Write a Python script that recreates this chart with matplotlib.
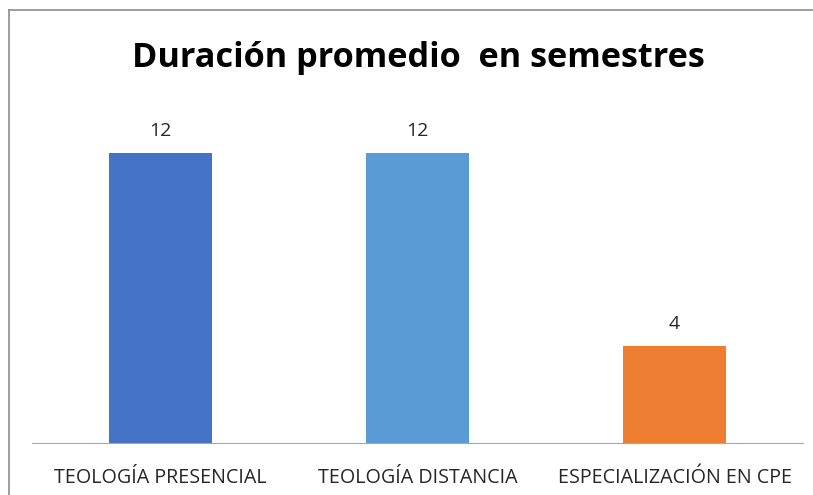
import matplotlib
matplotlib.use('Agg')
import matplotlib.pyplot as plt
from matplotlib.lines import Line2D

plt.rcParams['font.family'] = ['Open Sans', 'DejaVu Sans']

categorias = ['TEOLOGÍA PRESENCIAL', 'TEOLOGÍA DISTANCIA', 'ESPECIALIZACIÓN EN CPE']
semestres = [12, 12, 4]
colores = ['#4472C4', '#5B9BD5', '#ED7D31']
titulo = 'Duración promedio  en semestres'

fig = plt.figure(figsize=(8.13, 4.95), dpi=100)
ax = fig.add_axes([0.0394, 0.105, 0.9483, 0.683])

x = range(len(categorias))
bars = ax.bar(x, semestres, width=0.4, color=colores)
for b, v in zip(bars, semestres):
    ax.text(b.get_x() + b.get_width() / 2, v + 0.55, str(v),
            ha='center', va='bottom', fontsize=14, color='#262626')

ax.set_xlim(-0.5, len(categorias) - 0.5)
ax.set_ylim(0, 14)
ax.set_yticks([])
ax.set_xticks(list(x))
ax.set_xticklabels(categorias, fontsize=14.2, color='#262626')
ax.tick_params(axis='x', length=0, pad=18)
for s in ['top', 'right', 'left']:
    ax.spines[s].set_visible(False)
ax.spines['bottom'].set_color('#a6a6a6')

fig.text(0.515, 0.882, titulo, ha='center', va='center',
         fontsize=24.7, fontweight='bold', color='black')

# chart border (only left and top are visible in the crop)
fig.add_artist(Line2D([9 / 813, 9 / 813], [0, 1 - 10 / 495], transform=fig.transFigure,
                      color='#8c8c8c', lw=1.2))
fig.add_artist(Line2D([9 / 813, 1], [1 - 10 / 495, 1 - 10 / 495], transform=fig.transFigure,
                      color='#8c8c8c', lw=1.2))

plt.savefig('out.png', dpi=100)
